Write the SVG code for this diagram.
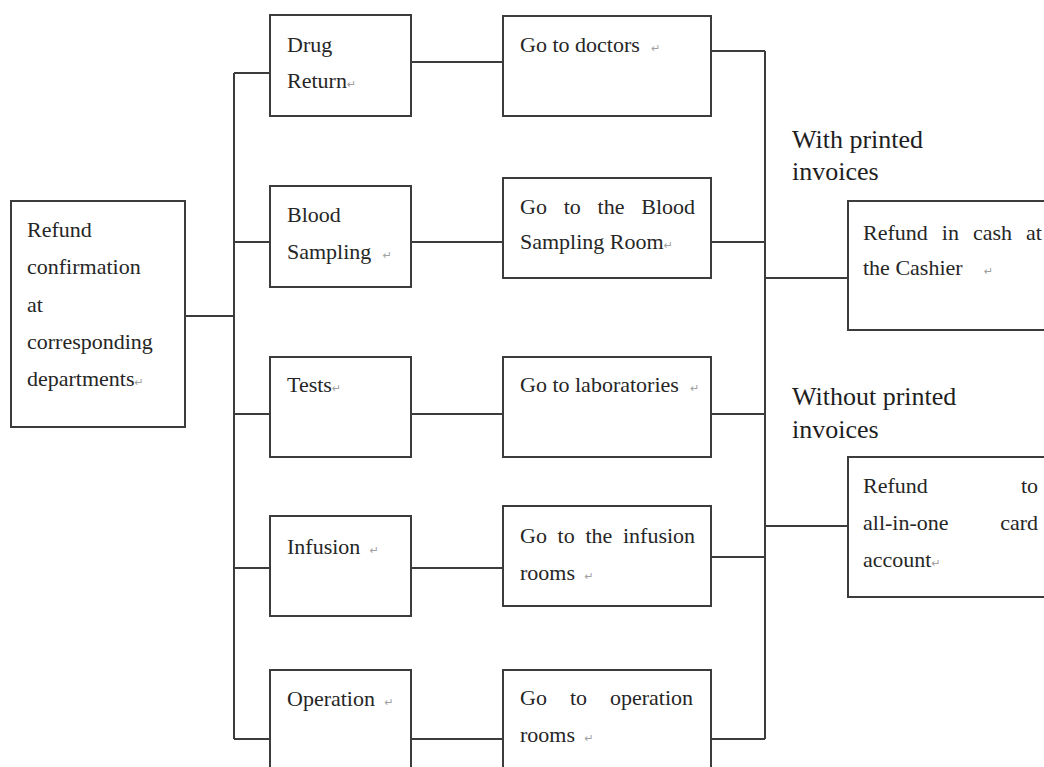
<svg xmlns="http://www.w3.org/2000/svg" width="1044" height="767" viewBox="0 0 1044 767">
  <style>
    .box { fill: #ffffff; stroke: #3c3c3c; stroke-width: 2; }
    .wire { fill: none; stroke: #3c3c3c; stroke-width: 2; }
    .t { font-family: "Liberation Serif", "Times New Roman", serif; font-size: 22px; fill: #262626; }
    .lbl { font-family: "Liberation Serif", "Times New Roman", serif; font-size: 26px; fill: #1e1e1e; }
    .pm { font-family: "DejaVu Sans", sans-serif; font-size: 11px; fill: #a0a0a0; }
    .end { text-anchor: end; }
  </style>
  <rect width="1044" height="767" fill="#ffffff"/>

  <!-- connectors -->
  <g id="connectors">
    <!-- source to left bus -->
    <line class="wire" x1="185" y1="316" x2="234" y2="316"/>
    <line class="wire" x1="234" y1="73" x2="234" y2="739"/>
    <!-- left bus to departments -->
    <line class="wire" x1="234" y1="73" x2="270" y2="73"/>
    <line class="wire" x1="234" y1="242" x2="270" y2="242"/>
    <line class="wire" x1="234" y1="414" x2="270" y2="414"/>
    <line class="wire" x1="234" y1="568" x2="270" y2="568"/>
    <line class="wire" x1="234" y1="739" x2="270" y2="739"/>
    <!-- departments to destinations -->
    <line class="wire" x1="411" y1="62" x2="503" y2="62"/>
    <line class="wire" x1="411" y1="242" x2="503" y2="242"/>
    <line class="wire" x1="411" y1="414" x2="503" y2="414"/>
    <line class="wire" x1="411" y1="568" x2="503" y2="568"/>
    <line class="wire" x1="411" y1="739" x2="503" y2="739"/>
    <!-- destinations to right bus -->
    <line class="wire" x1="711" y1="51" x2="765" y2="51"/>
    <line class="wire" x1="711" y1="242" x2="765" y2="242"/>
    <line class="wire" x1="711" y1="414" x2="765" y2="414"/>
    <line class="wire" x1="711" y1="557" x2="765" y2="557"/>
    <line class="wire" x1="711" y1="739" x2="765" y2="739"/>
    <line class="wire" x1="765" y1="51" x2="765" y2="739"/>
    <!-- right bus to refund options -->
    <line class="wire" x1="765" y1="278" x2="848" y2="278"/>
    <line class="wire" x1="765" y1="526" x2="848" y2="526"/>
  </g>

  <!-- source node -->
  <g id="node-confirmation">
    <rect class="box" x="11" y="201" width="174" height="226"/>
    <text class="t" x="27" y="237">Refund</text>
    <text class="t" x="27" y="274">confirmation</text>
    <text class="t" x="27" y="312">at</text>
    <text class="t" x="27" y="349">corresponding</text>
    <text class="t" x="27" y="386">departments<tspan class="pm">↵</tspan></text>
  </g>

  <!-- departments -->
  <g id="node-drug-return">
    <rect class="box" x="270" y="15" width="141" height="101"/>
    <text class="t" x="287" y="52">Drug</text>
    <text class="t" x="287" y="88">Return<tspan class="pm">↵</tspan></text>
  </g>
  <g id="node-blood-sampling">
    <rect class="box" x="270" y="186" width="141" height="101"/>
    <text class="t" x="287" y="222">Blood</text>
    <text class="t" x="287" y="259">Sampling <tspan class="pm" dx="6">↵</tspan></text>
  </g>
  <g id="node-tests">
    <rect class="box" x="270" y="357" width="141" height="100"/>
    <text class="t" x="287" y="392">Tests<tspan class="pm">↵</tspan></text>
  </g>
  <g id="node-infusion">
    <rect class="box" x="270" y="516" width="141" height="100"/>
    <text class="t" x="287" y="554">Infusion <tspan class="pm" dx="4">↵</tspan></text>
  </g>
  <g id="node-operation">
    <rect class="box" x="270" y="670" width="141" height="110"/>
    <text class="t" x="287" y="706">Operation <tspan class="pm" dx="4">↵</tspan></text>
  </g>

  <!-- destinations -->
  <g id="node-doctors">
    <rect class="box" x="503" y="16" width="208" height="100"/>
    <text class="t" x="520" y="52">Go to doctors <tspan class="pm" dx="6">↵</tspan></text>
  </g>
  <g id="node-sampling-room">
    <rect class="box" x="503" y="178" width="208" height="100"/>
    <text class="t" y="214"><tspan x="520">Go</tspan><tspan x="563.7">to</tspan><tspan x="597.6">the</tspan><tspan x="641.3">Blood</tspan></text>
    <text class="t" x="520" y="249">Sampling Room<tspan class="pm">↵</tspan></text>
  </g>
  <g id="node-laboratories">
    <rect class="box" x="503" y="357" width="208" height="100"/>
    <text class="t" x="520" y="392">Go to laboratories <tspan class="pm" dx="6">↵</tspan></text>
  </g>
  <g id="node-infusion-rooms">
    <rect class="box" x="503" y="506" width="208" height="100"/>
    <text class="t" y="543"><tspan x="520">Go</tspan><tspan x="557.6">to</tspan><tspan x="585.4">the</tspan><tspan x="623">infusion</tspan></text>
    <text class="t" x="520" y="580">rooms <tspan class="pm" dx="4">↵</tspan></text>
  </g>
  <g id="node-operation-rooms">
    <rect class="box" x="503" y="670" width="208" height="110"/>
    <text class="t" y="705"><tspan x="520">Go</tspan><tspan x="569.9">to</tspan><tspan x="610">operation</tspan></text>
    <text class="t" x="520" y="742">rooms <tspan class="pm" dx="4">↵</tspan></text>
  </g>

  <!-- branch labels -->
  <g id="label-with-invoices">
    <text class="lbl" x="792" y="148">With printed</text>
    <text class="lbl" x="792" y="180">invoices</text>
  </g>
  <g id="label-without-invoices">
    <text class="lbl" x="792" y="405">Without printed</text>
    <text class="lbl" x="792" y="438">invoices</text>
  </g>

  <!-- refund options -->
  <g id="node-cash-refund">
    <rect class="box" x="848" y="201" width="210" height="129"/>
    <text class="t" y="240"><tspan x="863">Refund</tspan><tspan x="941.8">in</tspan><tspan x="972.9">cash</tspan><tspan x="1026">at</tspan></text>
    <text class="t" x="863" y="275">the Cashier <tspan class="pm" dx="16">↵</tspan></text>
  </g>
  <g id="node-card-refund">
    <rect class="box" x="848" y="457" width="210" height="140"/>
    <text class="t" x="863" y="493">Refund</text>
    <text class="t end" x="1038" y="493">to</text>
    <text class="t" x="863" y="530">all-in-one</text>
    <text class="t end" x="1038" y="530">card</text>
    <text class="t" x="863" y="567">account<tspan class="pm">↵</tspan></text>
  </g>
</svg>
